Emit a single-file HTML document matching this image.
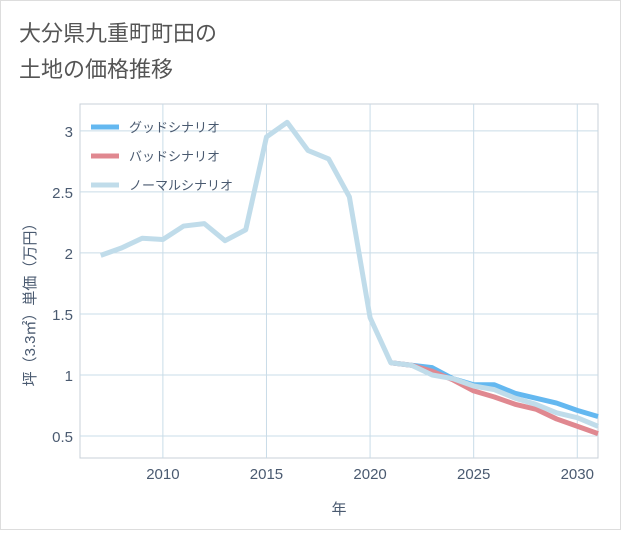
<!DOCTYPE html>
<html><head><meta charset="utf-8"><style>
body{margin:0;background:#fff;font-family:"Liberation Sans","Noto Sans CJK JP",sans-serif;}
#wrap{position:relative;width:619px;height:528px;border:1px solid #ddd;background:#fff;}
</style></head><body>
<div id="wrap">
<svg id="c" width="619" height="528" style="font-family:'Liberation Sans','Noto Sans CJK JP',sans-serif"></svg>
</div>
<script>
const years=[2007,2008,2009,2010,2011,2012,2013,2014,2015,2016,2017,2018,2019,2020,2021,2022,2023,2024,2025,2026,2027,2028,2029,2030,2031];
const normal=[1.98,2.04,2.12,2.11,2.22,2.24,2.10,2.19,2.95,3.07,2.84,2.77,2.46,1.47,1.10,1.08,1.00,0.97,0.91,0.88,0.81,0.76,0.69,0.65,0.58];
const futureYears=[2021,2022,2023,2024,2025,2026,2027,2028,2029,2030,2031];
const good=[1.10,1.08,1.06,0.97,0.92,0.92,0.85,0.81,0.77,0.71,0.66];
const bad=[1.10,1.08,1.03,0.96,0.87,0.82,0.76,0.72,0.64,0.58,0.52];
const xTicks=[2010,2015,2020,2025,2030];
const yTicks=[0.5,1,1.5,2,2.5,3];
const yLabels=["0.5","1","1.5","2","2.5","3"];
const NS="http://www.w3.org/2000/svg";
const svg=document.getElementById('c');
const L=79,R=597,T=103,B=457;
const x=v=>L+(v-2006)/(2031-2006)*(R-L);
const y=v=>B-(v-0.32)/(3.22-0.32)*(B-T);
function el(t,a,p){const e=document.createElementNS(NS,t);for(const k in a)e.setAttribute(k,a[k]);(p||svg).appendChild(e);return e;}
let t;
t=el('text',{x:18,y:40,'font-size':22,fill:'#555'});t.textContent='大分県九重町町田の';

t=el('text',{x:18,y:76,'font-size':22,fill:'#555'});t.textContent='土地の価格推移';

const pa=el('rect',{x:L,y:T,width:R-L,height:B-T,fill:'#fff',stroke:'#c8d0d8'});

xTicks.forEach(v=>{const g=el('line',{x1:x(v),x2:x(v),y1:T,y2:B,stroke:'#c9dce8'});

const tx=el('text',{x:x(v),y:478,'font-size':15,fill:'#4a5a70','text-anchor':'middle'});tx.textContent=v;
});
yTicks.forEach((v,i)=>{const g=el('line',{x1:L,x2:R,y1:y(v),y2:y(v),stroke:'#c9dce8'});

const tx=el('text',{x:72,y:y(v)+6,'font-size':15,fill:'#4a5a70','text-anchor':'end'});tx.textContent=yLabels[i];
});
t=el('text',{x:338,y:513,'font-size':15,fill:'#4a5a70','text-anchor':'middle'});t.textContent='年';

t=el('text',{x:0,y:0,'font-size':15,fill:'#4a5a70','text-anchor':'middle',transform:'translate(34,300) rotate(-90)'});t.textContent='坪（3.3㎡）単価（万円）';

function line(xs,vs,c,name){const p=el('polyline',{points:xs.map((v,i)=>x(v)+','+y(vs[i])).join(' '),fill:'none',stroke:c,'stroke-width':5,'stroke-linejoin':'round'});
}
const cl=el('clipPath',{id:'cp'});el('rect',{x:L,y:T,width:R-L,height:B-T},cl);
line(futureYears,good,'#64b8f0','good-scenario-line');
line(futureYears,bad,'#e08890','bad-scenario-line');
line(years,normal,'#c0dcea','normal-scenario-line');
[['グッドシナリオ','#64b8f0'],['バッドシナリオ','#e08890'],['ノーマルシナリオ','#c0dcea']].forEach((d,i)=>{
const yy=126+i*29;const s=el('line',{x1:90,x2:118,y1:yy,y2:yy,stroke:d[1],'stroke-width':5});

const tx=el('text',{x:128,y:yy+5,'font-size':13,fill:'#4a5a70'});tx.textContent=d[0];
});
</script>
</body></html>
